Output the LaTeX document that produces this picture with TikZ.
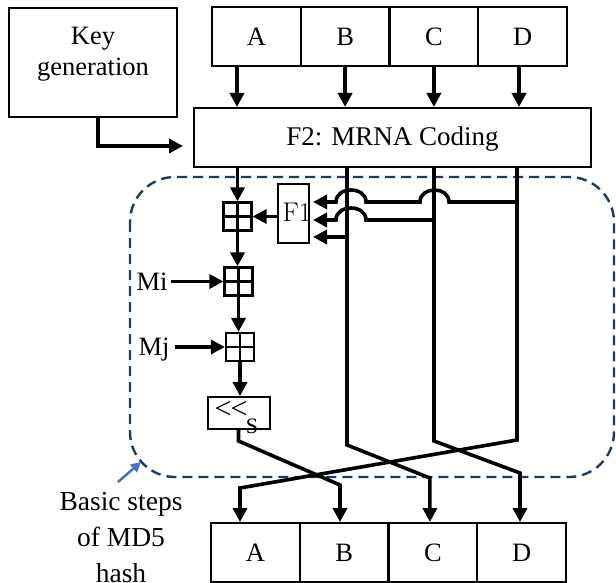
\documentclass[tikz,border=0pt]{standalone}
\usepackage{fontspec}
\setmainfont{Liberation Serif}
\newfontfamily\lmfont{Latin Modern Roman}
\usetikzlibrary{arrows.meta,calc}
\definecolor{dashblue}{HTML}{203864}
\definecolor{ptrblue}{HTML}{4472C4}
\begin{document}
\begin{tikzpicture}[x=1pt,y=-1pt,
  box/.style={draw, line width=2pt, inner sep=0pt, rectangle},
  lbl/.style={font=\fontsize{26.5}{31}\selectfont, inner sep=1pt},
  cell/.style={box, lbl, minimum width=88.75pt, minimum height=59pt},
  wire/.style={line width=3.6pt, line join=miter},
  arr/.style={wire, -{Triangle[length=14pt,width=14pt]}},
  addbox/.style={draw, line width=2.2pt, minimum size=28pt, inner sep=0pt,
    path picture={\draw[line width=2.2pt]
      (path picture bounding box.north) -- (path picture bounding box.south)
      (path picture bounding box.west) -- (path picture bounding box.east);}}]
\useasboundingbox (0,0) rectangle (616,583);

% dashed group
\draw[dashblue, line width=2.4pt, dash pattern=on 10pt off 6pt, rounded corners=45pt]
  (130,177) rectangle (614,477);

% key generation
\node[box, minimum width=168pt, minimum height=109pt] (key) at (93,62.5) {};
\node[lbl, align=center, anchor=north, inner sep=0pt] (keytxt) at (93,27) {Key\\generation};

% top registers
\node[cell] (tA) at (256.4,36.5) {A};
\node[cell] (tB) at (345.1,36.5) {B};
\node[cell] (tC) at (433.9,36.5) {C};
\node[cell] (tD) at (522.6,36.5) {D};

% bottom registers
\node[cell] (bA) at (255.4,552.5) {A};
\node[cell] (bB) at (344.1,552.5) {B};
\node[cell] (bC) at (432.9,552.5) {C};
\node[cell] (bD) at (521.6,552.5) {D};

% F2
\node[box, minimum width=397pt, minimum height=59pt] (F2) at (392.5,137.5) {};
\node[font=\fontsize{27}{32}\selectfont, anchor=base, inner sep=0pt] (F2txt) at (392.5,146) {F2: MRNA Coding};

% F1
\node[box, minimum width=31pt, minimum height=59pt] (F1) at (293.5,213.5) {};
\node[font=\lmfont\fontsize{27}{32}\selectfont, inner sep=0pt] (F1txt) at (297,212) {F1};

% adders
\node[addbox] (add1) at (237.5,216.5) {};
\node[addbox] (add2) at (238.5,281.5) {};
\node[addbox] (add3) at (240,347) {};

% shift box
\node[box, minimum width=62pt, minimum height=32pt] (sh) at (238.5,413) {};
\node[font=\fontsize{30}{34}\selectfont, inner sep=0pt] (shtxt) at (231,410) {<\kern-1pt<};
\node[font=\fontsize{22}{26}\selectfont, inner sep=0pt] (stxt) at (252,426) {S};

% Mi, Mj labels
\node[lbl, anchor=base] (mi) at (152,290) {Mi};
\node[lbl, anchor=base] (mj) at (154,355) {Mj};

% wire start coordinates on F2 bottom
\coordinate (wA) at (237.5,167);
\coordinate (wB) at (347,167);
\coordinate (wC) at (434,167);
\coordinate (wD) at (517,167);

% key -> F2
\draw[arr] ([xshift=5pt]key.south) |- ([xshift=-10pt,yshift=-8.5pt]F2.west);

% top registers -> F2
\draw[arr] ([xshift=-19.4pt]tA.south) -- ([xshift=-19.4pt]tA.south |- F2.north);
\draw[arr] (tB.south) -- (tB.south |- F2.north);
\draw[arr] (tC.south) -- (tC.south |- F2.north);
\draw[arr] ([xshift=-3.6pt]tD.south) -- ([xshift=-3.6pt]tD.south |- F2.north);

% chain of adders
\draw[arr] (wA) -- (add1.north);
\draw[arr] (F1.west |- add1.east) -- (add1.east);
\draw[arr] (add1.south) -- (add1.south |- add2.north);
\draw[arr] ([xshift=2pt]mi.east |- add2.west) -- (add2.west);
\draw[arr] ([xshift=4pt]mj.east |- add3.west) -- (add3.west);
\draw[arr] (add2.south) -- (add2.south |- add3.north);
\draw[arr] (add3.south) -- (add3.south |- sh.north);

% long wires and the permutation
\draw[arr] (wB) -- (347,445) -- (429.9,478) -- ([xshift=-3pt]bC.north);
\draw[arr] (wC) -- (434,441) -- (520,473) -- ([xshift=-1.6pt]bD.north);
\draw[arr] (wD) -- (517,440) -- (240,488) -- ([xshift=-15.4pt]bA.north);
\draw[arr] (sh.south) -- (238.5,441) -- (340,485) -- ([xshift=-4.1pt]bB.north);

% inputs of F1 with hops
\draw[arr] (517,202) -- (449,202) .. controls (449,186) and (420,186) .. (420,202)
  -- (366,202) .. controls (366,186) and (336,186) .. (336,202)
  -- ([xshift=3pt,yshift=11.5pt]F1.east);
\draw[arr] (434,220) -- (366,220) .. controls (366,204) and (336,204) .. (336,220)
  -- ([xshift=3pt,yshift=-6.5pt]F1.east);
\draw[arr] (347,237) -- ([xshift=3pt,yshift=-23.5pt]F1.east);

% annotation
\node[font=\fontsize{27.5}{36}\selectfont, align=center, anchor=north, inner sep=0pt] (basic) at (121,492)
  {Basic steps\\of MD5\\hash};
\draw[ptrblue, line width=2.5pt, -{Triangle[length=10pt,width=10pt]}] (118,482) -- (141,462);
\end{tikzpicture}
\end{document}
